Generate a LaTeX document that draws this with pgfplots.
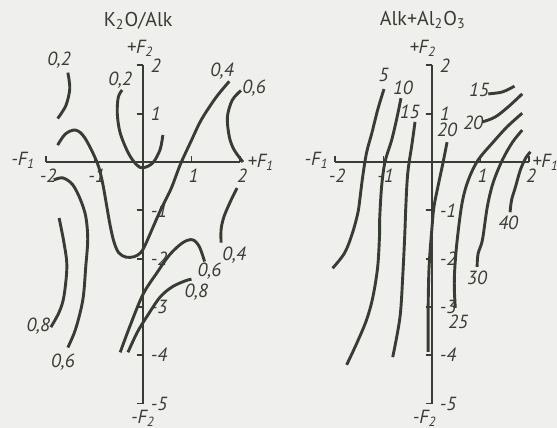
\documentclass[border=0pt]{standalone}
\usepackage{fontspec}
\setmainfont{PT Sans}
\usepackage{xcolor}
\usepackage{tikz}
\usepackage{pgfplots}
\pgfplotsset{compat=1.18}
\definecolor{ink}{RGB}{55,60,52}
\definecolor{paper}{RGB}{239,239,237}
\tikzset{
  curve/.style = {line width=1.45pt, draw=ink, smooth, tension=0.55, no marks},
  lab/.style   = {font=\fontsize{9.5}{9.5}\selectfont\itshape, text=ink, inner sep=0pt},
  ttl/.style   = {font=\fontsize{10}{10}\selectfont, text=ink, inner sep=0pt}
}
\pgfplotsset{
  panel/.style={
    anchor=origin, x=24.25pt, y=24.15pt,
    xmin=-2, xmax=2, ymin=-5, ymax=2,
    axis lines=middle, axis line style={-, line width=0.95pt, draw=ink},
    clip=false,
    xtick={-2,-1,1,2}, xticklabels={-2,-1,1,2},
    ytick={-5,-4,-3,-2,-1,1,2}, yticklabels={-5,-4,-3,-2,-1,1,2},
    tick align=center, major tick length=3.2pt,
    xtick style={line width=0.95pt, draw=ink, yshift=1.6pt},
    ytick style={line width=0.95pt, draw=ink, xshift=-1.6pt},
    xticklabel style={font=\fontsize{9.5}{9.5}\selectfont\itshape, text=ink, yshift=1.5pt, xshift=1pt},
    yticklabel style={font=\fontsize{9.5}{9.5}\selectfont\itshape, text=ink, anchor=west, xshift=2pt},
  }
}
\begin{document}
\begin{tikzpicture}
\fill[paper] (0,0) rectangle (278.5pt,-214pt);

% K2O/Alk
\begin{axis}[panel, at={(71.5pt,-81pt)}]
\addplot[curve] coordinates {(-1.55,1.85) (-1.51,1.52) (-1.59,1.17) (-1.76,0.9)};
\addplot[curve] coordinates {(-1.76,0.35) (-1.6,0.58) (-1.39,0.66) (-1.2,0.5)
  (-0.95,0) (-0.84,-0.4) (-0.75,-0.9) (-0.68,-1.3) (-0.6,-1.65) (-0.5,-1.88)
  (-0.35,-1.97) (-0.18,-1.96) (-0.05,-1.88) (0.03,-1.75) (0.12,-1.55)
  (0.36,-1.0) (0.58,-0.55) (0.77,-0.05) (1.0,0.45) (1.2,0.87) (1.5,1.33) (1.78,1.67)};
\addplot[curve] coordinates {(-0.43,1.49) (-0.51,1.34) (-0.53,1.0) (-0.47,0.6)
  (-0.3,0.18) (-0.13,-0.06) (0,-0.12) (0.2,-0.02) (0.35,0.25) (0.41,0.56)};
\addplot[curve] coordinates {(2.02,1.48) (1.84,1.28) (1.74,0.93) (1.78,0.52)
  (1.88,0.25) (2.06,0)};
\addplot[curve] coordinates {(-1.84,-0.37) (-1.65,-0.33) (-1.45,-0.47) (-1.29,-0.78)
  (-1.18,-1.13) (-1.14,-1.6) (-1.18,-2.16) (-1.24,-2.85) (-1.39,-3.46) (-1.55,-3.84)};
\addplot[curve] coordinates {(-1.73,-1.16) (-1.63,-1.67) (-1.57,-2.16) (-1.63,-2.78)
  (-1.73,-3.11) (-1.9,-3.42)};
\addplot[curve] coordinates {(1.94,-0.54) (1.82,-0.78) (1.67,-1.13) (1.61,-1.4) (1.61,-1.67)};
\addplot[curve] coordinates {(-0.47,-3.94) (-0.27,-3.4) (0,-2.74) (0.29,-2.29)
  (0.55,-1.92) (0.82,-1.67) (1.02,-1.61) (1.16,-1.75) (1.27,-2.06)};
\addplot[curve] coordinates {(-0.31,-3.94) (-0.12,-3.53) (0.08,-3.2) (0.35,-2.8)
  (0.61,-2.58) (0.9,-2.45) (1.0,-2.43)};

\node[lab] at (axis cs:-1.73,2.1) {0,2};
\node[lab] at (axis cs:-0.47,1.69) {0,2};
\node[lab] at (axis cs:1.63,1.88) {0,4};
\node[lab] at (axis cs:2.29,1.53) {0,6};
\node[lab] at (axis cs:1.88,-1.92) {0,4};
\node[lab] at (axis cs:1.37,-2.27) {0,6};
\node[lab] at (axis cs:1.1,-2.7) {0,8};
\node[lab] at (axis cs:-2.16,-3.4) {0,8};
\node[lab] at (axis cs:-1.65,-4.14) {0,6};

\node[lab] at (axis cs:-2.47,0.04) {-F\textsubscript{1}};
\node[lab] at (axis cs:2.43,0) {+F\textsubscript{1}};
\node[lab] at (axis cs:-0.06,2.35) {+F\textsubscript{2}};
\node[lab] at (axis cs:0.0,-5.3) {-F\textsubscript{2}};
\node[ttl] at (axis cs:-0.1,2.93) {K\textsubscript{2}O/Alk};
\end{axis}

% Alk+Al2O3
\begin{axis}[panel, at={(216pt,-81pt)}]
\addplot[curve] coordinates {(-0.99,1.51) (-1.12,1.08) (-1.24,0.6) (-1.35,0.19)
  (-1.43,-0.31) (-1.49,-0.79) (-1.53,-1.06) (-1.64,-1.47) (-1.8,-1.88) (-2.05,-2.2)};
\addplot[curve] coordinates {(-0.64,1.32) (-0.72,0.93) (-0.83,0.46) (-0.97,0)
  (-1.04,-0.52) (-1.08,-1.2) (-1.08,-1.47) (-1.12,-2.17) (-1.22,-2.8) (-1.35,-3.27)
  (-1.55,-3.75) (-1.76,-4.2)};
\addplot[curve] coordinates {(-0.35,0.83) (-0.41,0.39) (-0.5,-0.23) (-0.54,-0.93)
  (-0.56,-1.47) (-0.6,-2.3) (-0.66,-3.21) (-0.81,-4.04)};
\addplot[curve] coordinates {(0.31,0.41) (0.23,0) (0.12,-0.52) (0.04,-0.93)
  (0,-1.35) (-0.06,-2.17) (-0.08,-3.06) (-0.08,-3.93)};
\addplot[curve] coordinates {(1.86,1.01) (1.55,0.73) (1.26,0.41) (0.95,0.04)
  (0.75,-0.37) (0.62,-0.85) (0.52,-1.61) (0.47,-2.2) (0.46,-2.6) (0.48,-3.02)};
\addplot[curve] coordinates {(1.86,0.66) (1.66,0.41) (1.45,0.04) (1.26,-0.43)
  (1.14,-0.93) (1.04,-1.61) (0.95,-1.9) (0.93,-2.17)};
\addplot[curve] coordinates {(2.03,0.21) (1.93,0.08) (1.82,-0.17) (1.72,-0.52)
  (1.64,-0.79) (1.61,-1.04)};
\addplot[curve] coordinates {(1.16,1.41) (1.45,1.45) (1.7,1.57)};
\addplot[curve] coordinates {(1.04,0.83) (1.3,0.93) (1.57,1.14) (1.86,1.41)};

\node[lab] at (axis cs:-1.0,1.8) {5};
\node[lab] at (axis cs:-0.6,1.53) {10};
\node[lab] at (axis cs:-0.46,1.04) {15};
\node[lab] at (axis cs:0.31,0.66) {20};
\node[lab] at (axis cs:0.97,1.49) {15};
\node[lab] at (axis cs:0.85,0.81) {20};
\node[lab] at (axis cs:0.54,-3.31) {25};
\node[lab] at (axis cs:0.93,-2.4) {30};
\node[lab] at (axis cs:1.57,-1.26) {40};

\node[lab] at (axis cs:-2.38,0.04) {-F\textsubscript{1}};
\node[lab] at (axis cs:2.34,0) {+F\textsubscript{1}};
\node[lab] at (axis cs:-0.19,2.36) {+F\textsubscript{2}};
\node[lab] at (axis cs:-0.15,-5.3) {-F\textsubscript{2}};
\node[ttl] at (axis cs:-0.19,2.94) {Alk+Al\textsubscript{2}O\textsubscript{3}};
\end{axis}

\pgfresetboundingbox
\useasboundingbox (0,0) rectangle (278.5pt,-214pt);
\end{tikzpicture}
\end{document}
